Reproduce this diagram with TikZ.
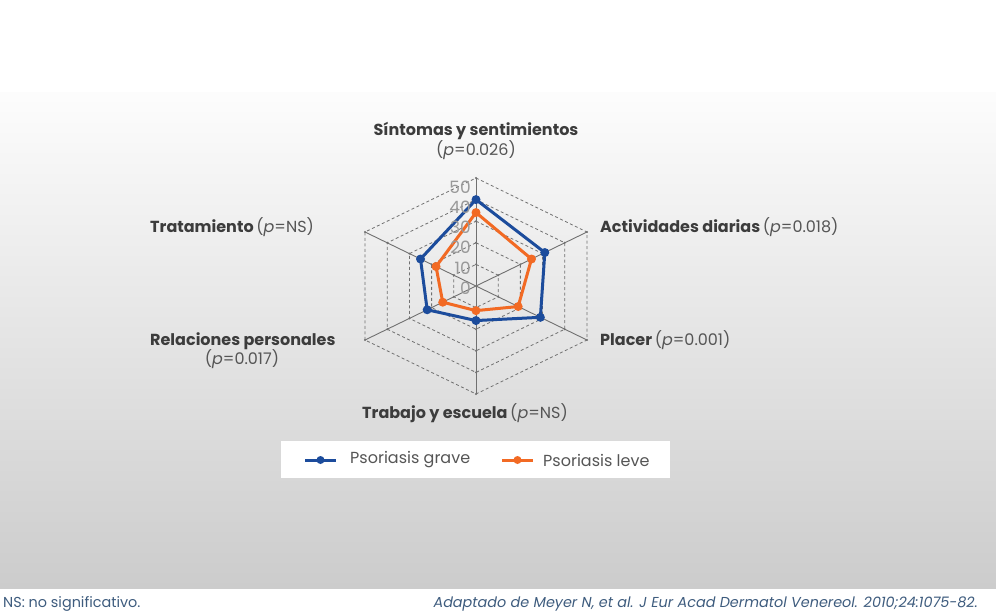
\documentclass[tikz,border=0pt]{standalone}
\usepackage{fontspec}
\usetikzlibrary{calc}
\setmainfont{Poppins}
\definecolor{gblue}{HTML}{1C4C9C}
\definecolor{gorange}{HTML}{F26A24}
\definecolor{labtxt}{HTML}{3C3C3C}
\definecolor{pvtxt}{HTML}{555555}
\definecolor{gridc}{HTML}{707070}
\definecolor{foot}{HTML}{3E5C7E}
\tikzset{
  griddash/.style={draw=gridc, line width=0.8pt, dash pattern=on 3pt off 2.5pt},
  spoke/.style={draw=gridc, line width=0.9pt},
  serie/.style={line width=3pt, line join=round},
  lab/.style={inner sep=0pt, font=\fontsize{16}{19}\selectfont\bfseries, text=labtxt},
  pv/.style={inner sep=0pt, font=\fontsize{16}{19}\selectfont, text=pvtxt},
  axlab/.style={inner sep=0pt, font=\fontsize{17}{20}\selectfont, text=gray!80, anchor=east},
  legtxt/.style={inner sep=0pt, font=\fontsize{16}{19}\selectfont, text=pvtxt, anchor=west},
  foottxt/.style={inner sep=0pt, font=\fontsize{14.4}{17}\selectfont, text=foot, anchor=base west}
}
\begin{document}
\begin{tikzpicture}[x=1pt,y=-1pt]
\useasboundingbox (0,0) rectangle (996,613);
\fill[white] (0,0) rectangle (996,613);
\shade[top color=white!99!black, bottom color=white!80!black] (0,92) rectangle (996,588);
% radar
\begin{scope}[shift={(476,286)}, x=2.563pt, y=2.16pt]
  \foreach \r in {10,20,...,50}
    \draw[griddash] (90:\r) -- (30:\r) -- (-30:\r) -- (-90:\r) -- (-150:\r) -- (150:\r) -- cycle;
  \foreach \a in {90,30,-30,-90,-150,150}{
    \draw[spoke] (0,0) -- (\a:50);
    \foreach \r in {10,20,...,50}
      \fill[gridc] (\a:\r) circle[radius=1.1pt];
  }
  \draw[serie, gblue] (90:40) -- (30:31) -- (-30:29) -- (-90:16) -- (-150:22) -- (150:25) -- cycle;
  \foreach \a/\v in {90/40,30/31,-30/29,-90/16,-150/22,150/25}
    \fill[gblue] (\a:\v) circle[radius=4.5pt];
  \draw[serie, gorange] (90:34) -- (30:25) -- (-30:19) -- (-90:11.4) -- (-150:15) -- (150:18) -- cycle;
  \foreach \a/\v in {90/34,30/25,-30/19,-90/11.4,-150/15,150/18}
    \fill[gorange] (\a:\v) circle[radius=4.5pt];
\end{scope}
% axis labels
\foreach \k/\t in {0/0,1/10,2/20,3/30,4/40,5/50}
  \node[axlab] (ax\k) at (471,{288-20.2*\k}) {\t};
% category labels
\node[lab, anchor=base] (l1) at (476,135) {Síntomas y sentimientos};
\node[pv, anchor=base] (l1p) at (476,155) {(\textit{p}=0.026)};
\node[anchor=base west, inner sep=0pt] (l2) at (600,232) {\tikz[baseline]\node[lab,anchor=base]{Actividades diarias};\ \tikz[baseline]\node[pv,anchor=base]{(\textit{p}=0.018)};};
\node[anchor=base west, inner sep=0pt] (l3) at (600,345) {\tikz[baseline]\node[lab,anchor=base]{Placer};\ \tikz[baseline]\node[pv,anchor=base]{(\textit{p}=0.001)};};
\node[anchor=base west, inner sep=0pt] (l4) at (362,418) {\tikz[baseline]\node[lab,anchor=base]{Trabajo y escuela};\ \tikz[baseline]\node[pv,anchor=base]{(\textit{p}=NS)};};
\node[lab, anchor=base west] (l5) at (150,345) {Relaciones personales};
\node[pv, anchor=base] (l5p) at (242,364) {(\textit{p}=0.017)};
\node[anchor=base west, inner sep=0pt] (l6) at (150,232) {\tikz[baseline]\node[lab,anchor=base]{Tratamiento};\ \tikz[baseline]\node[pv,anchor=base]{(\textit{p}=NS)};};
% legend
\node[fill=white, inner sep=0pt, minimum width=389pt, minimum height=37pt] (leg) at (475.5,459.5) {};
\coordinate (b1) at (305,460);
\coordinate (b2) at (336,460);
\draw[gblue, line width=3pt] (b1) -- (b2);
\fill[gblue] ($(b1)!0.5!(b2)$) circle[radius=4pt];
\node[legtxt] (lg1) at (350,460) {Psoriasis grave};
\coordinate (o1) at (502,460);
\coordinate (o2) at (533,460);
\draw[gorange, line width=3pt] (o1) -- (o2);
\fill[gorange] ($(o1)!0.5!(o2)$) circle[radius=4pt];
\node[legtxt] (lg2) at (543,460) {Psoriasis leve};
% footer
\node[foottxt] (f1) at (3,607) {NS: no significativo.};
\node[foottxt, anchor=base east] (f2) at (978,607) {\itshape Adaptado de Meyer N, et al. J Eur Acad Dermatol Venereol. 2010;24:1075-82.};
\end{tikzpicture}
\end{document}
